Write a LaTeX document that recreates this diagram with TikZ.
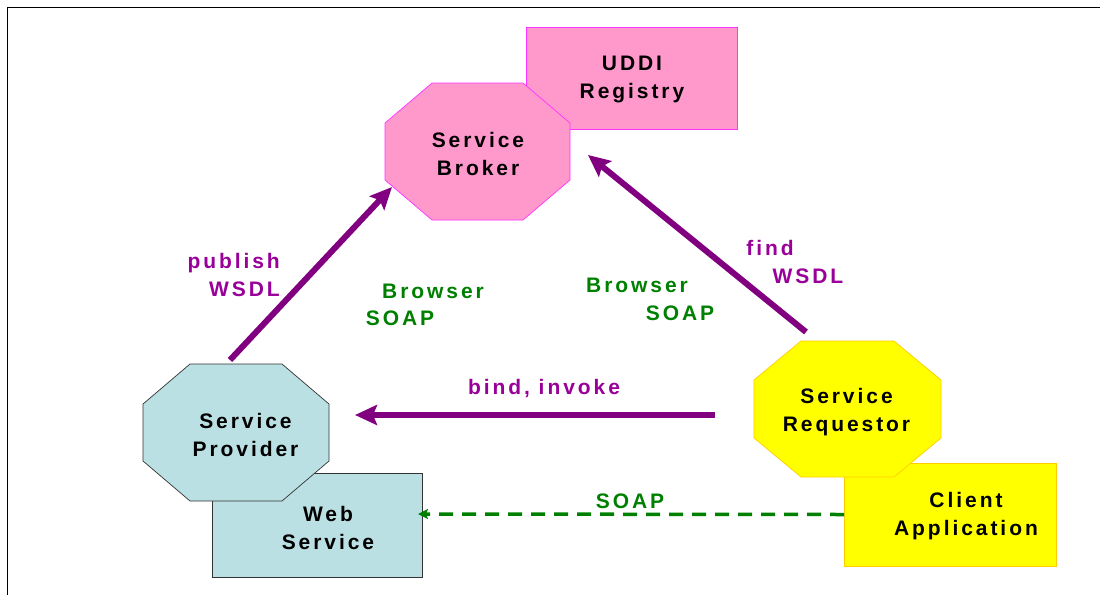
\documentclass[tikz,border=0pt]{standalone}
\usepackage{fontspec}
\setmainfont{Liberation Sans}[LetterSpace=14]
\usetikzlibrary{arrows.meta,calc}
\definecolor{pinkfill}{HTML}{FF99CC}
\definecolor{pinkdraw}{HTML}{FF33FF}
\definecolor{bluefill}{HTML}{BBE0E3}
\definecolor{bluedraw}{HTML}{333333}
\definecolor{yelfill}{HTML}{FFFF00}
\definecolor{yeldraw}{HTML}{FFCC00}
\definecolor{arrpurple}{HTML}{800080}
\definecolor{lblpurple}{HTML}{990099}
\definecolor{lblgreen}{HTML}{008000}
% octagon outline inside the bounding box of node #1, chamfers #2 (x) and #3 (y)
\newcommand\octoutline[3]{%
  ($(#1.north west)+(#2,0)$) -- ($(#1.north east)+(-#2,0)$) --
  ($(#1.north east)+(0,#3)$) -- ($(#1.south east)+(0,-#3)$) --
  ($(#1.south east)+(-#2,0)$) -- ($(#1.south west)+(#2,0)$) --
  ($(#1.south west)+(0,-#3)$) -- ($(#1.north west)+(0,#3)$) -- cycle}
\begin{document}
\begin{tikzpicture}[x=1pt,y=-1pt,
  octbox/.style={rectangle, inner sep=0pt, outer sep=0pt},
  box/.style={rectangle, inner sep=0pt, outer sep=0pt, line width=0.7pt},
  pinkshape/.style={fill=pinkfill, draw=pinkdraw, line width=0.7pt},
  blueshape/.style={fill=bluefill, draw=bluedraw, line width=0.7pt},
  yelshape/.style={fill=yelfill, draw=yeldraw, line width=0.7pt},
  txt/.style={font=\fontsize{21}{28}\selectfont\bfseries, align=center, inner sep=0pt, text=black},
  plbl/.style={font=\fontsize{21}{28}\selectfont\bfseries, inner sep=0pt, text=lblpurple},
  glbl/.style={font=\fontsize{21}{28}\selectfont\bfseries, inner sep=0pt, text=lblgreen},
  parr/.style={draw=arrpurple, line width=6pt, -{Stealth[length=22pt,width=20pt,inset=4pt]}},
  garr/.style={draw=lblgreen, line width=3.5pt, dash pattern=on 14pt off 9pt, -{Stealth[length=10pt,width=10pt,inset=2pt]}}
]
\useasboundingbox (0,0) rectangle (1100,595);
% frame
\draw[line width=1pt] (7,595) -- (7,7) -- (1100,7);

% shapes
\node[box, pinkshape, minimum width=211pt, minimum height=102pt] (uddi) at (631.5,78) {};
\node[octbox, minimum width=185pt, minimum height=137pt] (brok) at (477.5,151.5) {};
\path[pinkshape] \octoutline{brok}{47}{40};
\node[box, blueshape, minimum width=210pt, minimum height=104pt] (websvc) at (317,525) {};
\node[octbox, minimum width=186pt, minimum height=137pt] (prov) at (236,432.5) {};
\path[blueshape] \octoutline{prov}{47}{40};
\node[box, yelshape, minimum width=212pt, minimum height=103pt] (client) at (950,514.5) {};
\node[octbox, minimum width=187pt, minimum height=136pt] (req) at (847.5,409) {};
\path[yelshape] \octoutline{req}{47}{39};

% shape texts
\node[txt] (uddiT) at (632,79) {UDDI\\Registry};
\node[txt] (brokT) at (478,153.5) {Service\\Broker};
\node[txt] (provT) at (245.5,435) {Service\\Provider};
\node[txt] (websvcT) at (328,528) {Web\\Service};
\node[txt] (reqT) at (846.5,412) {Service\\Requestor};
\node[txt] (clientT) at (966,516) {Client\\Application};

% connectors
\draw[parr] ($(prov)+(-6,-72.5)$) -- ($(brok)+(-85.5,35.5)$);
\draw[parr] ($(req)+(-41.5,-77)$) -- ($(brok)+(110.5,3.5)$);
\draw[parr] ($(req)+(-132.5,6)$) -- ($(prov)+(119,-17.5)$);
\draw[garr] (client.west) -- ($(websvc.east)+(-4,-11)$);

% labels
\node[plbl, align=right, anchor=east] (pubL) at (280,275) {publish\\WSDL};
\node[glbl] (bsL1a) at (433,291) {Browser};
\node[glbl] (bsL1b) at (400,318) {SOAP};
\node[glbl] (bsR1a) at (637,285) {Browser};
\node[glbl] (bsR1b) at (680,313) {SOAP};
\node[plbl] (findL1) at (770,248) {find};
\node[plbl] (findL2) at (808,276) {WSDL};
\node[plbl] (bindL) at (544,389) {bind, invoke};
\node[glbl] (soapL) at (630,501) {SOAP};
\end{tikzpicture}
\end{document}
